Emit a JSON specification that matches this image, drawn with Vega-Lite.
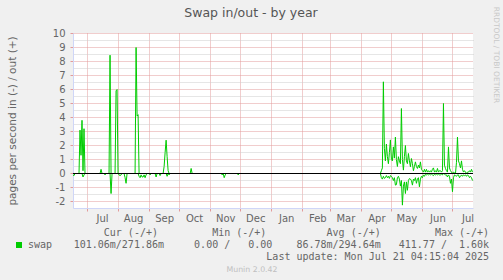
{
"$schema":"https://vega.github.io/schema/vega-lite/v6.json",
"width":400,"height":175,
"autosize":{"type":"none"},
"padding":{"left":73,"top":33,"right":30,"bottom":72},
"background":"#F0F0F0",
"config":{"view":{"fill":"#FFFFFF","stroke":null},"font":"DejaVu Sans"},
"title":{"text":"Swap in/out - by year","font":"DejaVu Sans","fontSize":12.5,"fontWeight":"normal","color":"#555555","anchor":"middle","frame":"group","dx":-22,"dy":23.5,"offset":0,"baseline":"alphabetic"},
"data":{"values":[
{"d":"2024-06-17","v":0,"s":"out"},{"d":"2024-06-23","v":0,"s":"out"},{"d":"2024-06-24","v":3.1,"s":"out"},{"d":"2024-06-25","v":1.3,"s":"out"},{"d":"2024-06-26","v":3.8,"s":"out"},{"d":"2024-06-27","v":0.2,"s":"out"},{"d":"2024-06-28","v":3.2,"s":"out"},{"d":"2024-06-29","v":0,"s":"out"},{"d":"2024-07-05","v":null,"s":"out"},{"d":"2024-07-14","v":0,"s":"out"},{"d":"2024-07-15","v":0.3,"s":"out"},{"d":"2024-07-16","v":0,"s":"out"},{"d":"2024-07-20","v":null,"s":"out"},{"d":"2024-07-23","v":0,"s":"out"},{"d":"2024-07-24","v":8.45,"s":"out"},{"d":"2024-07-25","v":0,"s":"out"},{"d":"2024-07-27","v":null,"s":"out"},{"d":"2024-07-29","v":0,"s":"out"},{"d":"2024-07-30","v":5.9,"s":"out"},{"d":"2024-07-31","v":6.0,"s":"out"},{"d":"2024-08-01","v":0,"s":"out"},{"d":"2024-08-10","v":null,"s":"out"},{"d":"2024-08-18","v":0,"s":"out"},{"d":"2024-08-19","v":9.0,"s":"out"},{"d":"2024-08-20","v":4.1,"s":"out"},{"d":"2024-08-21","v":4.2,"s":"out"},{"d":"2024-08-22","v":0,"s":"out"},{"d":"2024-09-01","v":null,"s":"out"},{"d":"2024-09-15","v":0,"s":"out"},{"d":"2024-09-16","v":0.5,"s":"out"},{"d":"2024-09-17","v":1.5,"s":"out"},{"d":"2024-09-18","v":2.38,"s":"out"},{"d":"2024-09-19","v":1.2,"s":"out"},{"d":"2024-09-20","v":0.2,"s":"out"},{"d":"2024-09-21","v":0,"s":"out"},{"d":"2024-10-01","v":null,"s":"out"},{"d":"2024-10-12","v":0,"s":"out"},{"d":"2024-10-13","v":0.36,"s":"out"},{"d":"2024-10-14","v":0,"s":"out"},{"d":"2025-01-01","v":null,"s":"out"},
{"d":"2025-04-19","v":0,"s":"out"},{"d":"2025-04-20","v":0,"s":"out"},{"d":"2025-04-21","v":0.2,"s":"out"},{"d":"2025-04-22","v":0.4,"s":"out"},{"d":"2025-04-23","v":6.55,"s":"out"},{"d":"2025-04-24","v":1.8,"s":"out"},{"d":"2025-04-25","v":0.9,"s":"out"},{"d":"2025-04-26","v":2.1,"s":"out"},{"d":"2025-04-27","v":1.2,"s":"out"},{"d":"2025-04-28","v":0.7,"s":"out"},{"d":"2025-04-29","v":1.5,"s":"out"},{"d":"2025-04-30","v":2.4,"s":"out"},
{"d":"2025-05-01","v":1.0,"s":"out"},{"d":"2025-05-02","v":0.9,"s":"out"},{"d":"2025-05-03","v":1.9,"s":"out"},{"d":"2025-05-04","v":1.1,"s":"out"},{"d":"2025-05-05","v":2.6,"s":"out"},{"d":"2025-05-06","v":1.0,"s":"out"},{"d":"2025-05-07","v":0.5,"s":"out"},{"d":"2025-05-08","v":1.2,"s":"out"},{"d":"2025-05-09","v":0.9,"s":"out"},{"d":"2025-05-10","v":0.7,"s":"out"},{"d":"2025-05-11","v":4.64,"s":"out"},{"d":"2025-05-12","v":1.0,"s":"out"},{"d":"2025-05-13","v":0.24,"s":"out"},{"d":"2025-05-14","v":1.2,"s":"out"},{"d":"2025-05-15","v":2.0,"s":"out"},{"d":"2025-05-16","v":0.9,"s":"out"},{"d":"2025-05-17","v":0.7,"s":"out"},{"d":"2025-05-18","v":1.43,"s":"out"},{"d":"2025-05-19","v":0.9,"s":"out"},{"d":"2025-05-20","v":0.48,"s":"out"},{"d":"2025-05-21","v":1.07,"s":"out"},{"d":"2025-05-22","v":0.7,"s":"out"},{"d":"2025-05-23","v":0.2,"s":"out"},{"d":"2025-05-24","v":0.5,"s":"out"},{"d":"2025-05-25","v":0.83,"s":"out"},{"d":"2025-05-26","v":0.5,"s":"out"},{"d":"2025-05-27","v":0.36,"s":"out"},{"d":"2025-05-28","v":0.6,"s":"out"},{"d":"2025-05-29","v":0.4,"s":"out"},{"d":"2025-05-30","v":0.83,"s":"out"},{"d":"2025-05-31","v":0.3,"s":"out"},
{"d":"2025-06-01","v":0.2,"s":"out"},{"d":"2025-06-02","v":0.1,"s":"out"},{"d":"2025-06-03","v":0.3,"s":"out"},{"d":"2025-06-04","v":0.1,"s":"out"},{"d":"2025-06-05","v":0.3,"s":"out"},{"d":"2025-06-06","v":0.1,"s":"out"},{"d":"2025-06-07","v":0.2,"s":"out"},{"d":"2025-06-08","v":0.1,"s":"out"},{"d":"2025-06-09","v":0.2,"s":"out"},{"d":"2025-06-10","v":0.1,"s":"out"},{"d":"2025-06-11","v":0.3,"s":"out"},{"d":"2025-06-12","v":0.4,"s":"out"},{"d":"2025-06-13","v":0.1,"s":"out"},{"d":"2025-06-14","v":0.2,"s":"out"},{"d":"2025-06-15","v":0.1,"s":"out"},{"d":"2025-06-16","v":0.36,"s":"out"},{"d":"2025-06-17","v":0.1,"s":"out"},{"d":"2025-06-18","v":0.2,"s":"out"},{"d":"2025-06-19","v":0.2,"s":"out"},{"d":"2025-06-20","v":0.1,"s":"out"},{"d":"2025-06-21","v":0.2,"s":"out"},{"d":"2025-06-22","v":5.0,"s":"out"},{"d":"2025-06-23","v":0.6,"s":"out"},{"d":"2025-06-24","v":0.36,"s":"out"},{"d":"2025-06-25","v":0.2,"s":"out"},{"d":"2025-06-26","v":0.1,"s":"out"},{"d":"2025-06-27","v":1.9,"s":"out"},{"d":"2025-06-28","v":0.4,"s":"out"},{"d":"2025-06-29","v":0.2,"s":"out"},{"d":"2025-06-30","v":0.1,"s":"out"},
{"d":"2025-07-01","v":0,"s":"out"},{"d":"2025-07-02","v":0.1,"s":"out"},{"d":"2025-07-03","v":0.05,"s":"out"},{"d":"2025-07-04","v":0,"s":"out"},{"d":"2025-07-05","v":0.8,"s":"out"},{"d":"2025-07-06","v":2.6,"s":"out"},{"d":"2025-07-07","v":0.9,"s":"out"},{"d":"2025-07-08","v":0.7,"s":"out"},{"d":"2025-07-09","v":0.4,"s":"out"},{"d":"2025-07-10","v":0.9,"s":"out"},{"d":"2025-07-11","v":0.3,"s":"out"},{"d":"2025-07-12","v":0.1,"s":"out"},{"d":"2025-07-13","v":0.2,"s":"out"},{"d":"2025-07-14","v":0.1,"s":"out"},{"d":"2025-07-15","v":0,"s":"out"},{"d":"2025-07-16","v":0.1,"s":"out"},{"d":"2025-07-17","v":0.1,"s":"out"},{"d":"2025-07-18","v":0.2,"s":"out"},{"d":"2025-07-19","v":0.1,"s":"out"},{"d":"2025-07-20","v":0.3,"s":"out"},{"d":"2025-07-21","v":0.1,"s":"out"},
{"d":"2024-06-17","v":-0.1,"s":"in"},{"d":"2024-06-18","v":-0.15,"s":"in"},{"d":"2024-06-19","v":0,"s":"in"},{"d":"2024-06-22","v":null,"s":"in"},{"d":"2024-06-26","v":0,"s":"in"},{"d":"2024-06-27","v":-0.25,"s":"in"},{"d":"2024-06-28","v":-0.1,"s":"in"},{"d":"2024-06-29","v":0,"s":"in"},{"d":"2024-07-08","v":null,"s":"in"},{"d":"2024-07-18","v":0,"s":"in"},{"d":"2024-07-19","v":-0.1,"s":"in"},{"d":"2024-07-20","v":0,"s":"in"},{"d":"2024-07-22","v":null,"s":"in"},{"d":"2024-07-24","v":0,"s":"in"},{"d":"2024-07-25","v":-1.43,"s":"in"},{"d":"2024-07-26","v":0,"s":"in"},{"d":"2024-07-29","v":null,"s":"in"},{"d":"2024-08-01","v":0,"s":"in"},{"d":"2024-08-02","v":-0.1,"s":"in"},{"d":"2024-08-03","v":-0.15,"s":"in"},{"d":"2024-08-04","v":-0.1,"s":"in"},{"d":"2024-08-05","v":0,"s":"in"},{"d":"2024-08-07","v":0,"s":"in"},{"d":"2024-08-08","v":-0.3,"s":"in"},{"d":"2024-08-09","v":-0.7,"s":"in"},{"d":"2024-08-10","v":0,"s":"in"},{"d":"2024-08-15","v":null,"s":"in"},{"d":"2024-08-21","v":0,"s":"in"},{"d":"2024-08-22","v":-0.2,"s":"in"},{"d":"2024-08-23","v":-0.3,"s":"in"},{"d":"2024-08-24","v":-0.1,"s":"in"},{"d":"2024-08-25","v":-0.25,"s":"in"},{"d":"2024-08-26","v":-0.25,"s":"in"},{"d":"2024-08-27","v":-0.1,"s":"in"},{"d":"2024-08-28","v":-0.3,"s":"in"},{"d":"2024-08-29","v":-0.1,"s":"in"},{"d":"2024-08-30","v":0,"s":"in"},{"d":"2024-09-01","v":0,"s":"in"},{"d":"2024-09-02","v":-0.1,"s":"in"},{"d":"2024-09-03","v":0,"s":"in"},{"d":"2024-09-05","v":null,"s":"in"},{"d":"2024-09-07","v":0,"s":"in"},{"d":"2024-09-08","v":-0.25,"s":"in"},{"d":"2024-09-09","v":0,"s":"in"},{"d":"2024-09-11","v":0,"s":"in"},{"d":"2024-09-12","v":-0.15,"s":"in"},{"d":"2024-09-13","v":0,"s":"in"},{"d":"2024-09-15","v":null,"s":"in"},{"d":"2024-09-18","v":0,"s":"in"},{"d":"2024-09-19","v":-0.2,"s":"in"},{"d":"2024-09-20","v":0,"s":"in"},{"d":"2024-09-21","v":-0.1,"s":"in"},{"d":"2024-09-22","v":0,"s":"in"},{"d":"2024-10-15","v":null,"s":"in"},{"d":"2024-11-12","v":0,"s":"in"},{"d":"2024-11-13","v":-0.1,"s":"in"},{"d":"2024-11-14","v":0,"s":"in"},{"d":"2024-11-15","v":-0.3,"s":"in"},{"d":"2024-11-16","v":-0.1,"s":"in"},{"d":"2024-11-17","v":0,"s":"in"},{"d":"2024-11-22","v":null,"s":"in"},{"d":"2024-11-28","v":0,"s":"in"},{"d":"2024-11-29","v":-0.1,"s":"in"},{"d":"2024-11-30","v":0,"s":"in"},{"d":"2025-01-01","v":null,"s":"in"},
{"d":"2025-04-19","v":0,"s":"in"},{"d":"2025-04-20","v":0,"s":"in"},{"d":"2025-04-21","v":-0.3,"s":"in"},{"d":"2025-04-22","v":-0.4,"s":"in"},{"d":"2025-04-23","v":-0.2,"s":"in"},{"d":"2025-04-24","v":-0.35,"s":"in"},{"d":"2025-04-25","v":-0.3,"s":"in"},{"d":"2025-04-26","v":-0.15,"s":"in"},{"d":"2025-04-27","v":-0.3,"s":"in"},{"d":"2025-04-28","v":-0.2,"s":"in"},{"d":"2025-04-29","v":-0.35,"s":"in"},{"d":"2025-04-30","v":-0.15,"s":"in"},
{"d":"2025-05-01","v":-0.2,"s":"in"},{"d":"2025-05-02","v":-0.3,"s":"in"},{"d":"2025-05-03","v":-0.5,"s":"in"},{"d":"2025-05-04","v":-0.3,"s":"in"},{"d":"2025-05-05","v":-0.83,"s":"in"},{"d":"2025-05-06","v":-0.8,"s":"in"},{"d":"2025-05-07","v":-0.3,"s":"in"},{"d":"2025-05-08","v":-0.2,"s":"in"},{"d":"2025-05-09","v":-0.4,"s":"in"},{"d":"2025-05-10","v":-0.9,"s":"in"},{"d":"2025-05-11","v":-0.5,"s":"in"},{"d":"2025-05-12","v":-2.26,"s":"in"},{"d":"2025-05-13","v":-0.9,"s":"in"},{"d":"2025-05-14","v":-0.6,"s":"in"},{"d":"2025-05-15","v":-1.43,"s":"in"},{"d":"2025-05-16","v":-0.6,"s":"in"},{"d":"2025-05-17","v":-1.2,"s":"in"},{"d":"2025-05-18","v":-0.5,"s":"in"},{"d":"2025-05-19","v":-0.36,"s":"in"},{"d":"2025-05-20","v":-0.4,"s":"in"},{"d":"2025-05-21","v":-0.5,"s":"in"},{"d":"2025-05-22","v":-0.83,"s":"in"},{"d":"2025-05-23","v":-0.4,"s":"in"},{"d":"2025-05-24","v":-0.5,"s":"in"},{"d":"2025-05-25","v":-0.3,"s":"in"},{"d":"2025-05-26","v":-0.7,"s":"in"},{"d":"2025-05-27","v":-0.4,"s":"in"},{"d":"2025-05-28","v":-0.3,"s":"in"},{"d":"2025-05-29","v":-0.95,"s":"in"},{"d":"2025-05-30","v":-0.4,"s":"in"},{"d":"2025-05-31","v":-0.2,"s":"in"},
{"d":"2025-06-01","v":-0.3,"s":"in"},{"d":"2025-06-02","v":-0.1,"s":"in"},{"d":"2025-06-03","v":-0.2,"s":"in"},{"d":"2025-06-04","v":-0.05,"s":"in"},{"d":"2025-06-05","v":-0.1,"s":"in"},{"d":"2025-06-06","v":-0.05,"s":"in"},{"d":"2025-06-07","v":-0.1,"s":"in"},{"d":"2025-06-08","v":-0.05,"s":"in"},{"d":"2025-06-09","v":-0.1,"s":"in"},{"d":"2025-06-10","v":-0.05,"s":"in"},{"d":"2025-06-11","v":-0.1,"s":"in"},{"d":"2025-06-12","v":-0.15,"s":"in"},{"d":"2025-06-13","v":-0.05,"s":"in"},{"d":"2025-06-14","v":-0.1,"s":"in"},{"d":"2025-06-15","v":-0.05,"s":"in"},{"d":"2025-06-16","v":-0.1,"s":"in"},{"d":"2025-06-17","v":-0.05,"s":"in"},{"d":"2025-06-18","v":-0.1,"s":"in"},{"d":"2025-06-19","v":-0.1,"s":"in"},{"d":"2025-06-20","v":-0.05,"s":"in"},{"d":"2025-06-21","v":-0.1,"s":"in"},{"d":"2025-06-22","v":0,"s":"in"},{"d":"2025-06-23","v":-0.05,"s":"in"},{"d":"2025-06-24","v":-0.1,"s":"in"},{"d":"2025-06-25","v":-0.1,"s":"in"},{"d":"2025-06-26","v":-0.25,"s":"in"},{"d":"2025-06-27","v":-0.1,"s":"in"},{"d":"2025-06-28","v":-0.2,"s":"in"},{"d":"2025-06-29","v":-0.7,"s":"in"},{"d":"2025-06-30","v":-0.4,"s":"in"},
{"d":"2025-07-01","v":-1.3,"s":"in"},{"d":"2025-07-02","v":-0.3,"s":"in"},{"d":"2025-07-03","v":-0.1,"s":"in"},{"d":"2025-07-04","v":-0.15,"s":"in"},{"d":"2025-07-05","v":-0.2,"s":"in"},{"d":"2025-07-06","v":-0.1,"s":"in"},{"d":"2025-07-07","v":-0.1,"s":"in"},{"d":"2025-07-08","v":-0.3,"s":"in"},{"d":"2025-07-09","v":-0.2,"s":"in"},{"d":"2025-07-10","v":-0.1,"s":"in"},{"d":"2025-07-11","v":-0.2,"s":"in"},{"d":"2025-07-12","v":-0.1,"s":"in"},{"d":"2025-07-13","v":-0.15,"s":"in"},{"d":"2025-07-14","v":-0.1,"s":"in"},{"d":"2025-07-15","v":-0.2,"s":"in"},{"d":"2025-07-16","v":-0.1,"s":"in"},{"d":"2025-07-17","v":-0.15,"s":"in"},{"d":"2025-07-18","v":-0.3,"s":"in"},{"d":"2025-07-19","v":-0.2,"s":"in"},{"d":"2025-07-20","v":-0.3,"s":"in"},{"d":"2025-07-21","v":-0.5,"s":"in"}
]},
"resolve":{"axis":{"x":"independent","y":"independent"}},
"layer":[
{"mark":{"type":"line","strokeWidth":1,"interpolate":"linear","invalid":"break-paths-filter-domains","yOffset":0.5},
 "encoding":{
  "x":{"field":"d","type":"temporal",
   "scale":{"type":"utc","domain":[{"year":2024,"month":6,"date":17,"utc":true},{"year":2025,"month":7,"date":21,"hours":12,"utc":true}]},
   "axis":{"orient":"bottom",
    "values":[{"year":2024,"month":7,"date":1,"utc":true},{"year":2024,"month":8,"date":1,"utc":true},{"year":2024,"month":9,"date":1,"utc":true},{"year":2024,"month":10,"date":1,"utc":true},{"year":2024,"month":11,"date":1,"utc":true},{"year":2024,"month":12,"date":1,"utc":true},{"year":2025,"month":1,"date":1,"utc":true},{"year":2025,"month":2,"date":1,"utc":true},{"year":2025,"month":3,"date":1,"utc":true},{"year":2025,"month":4,"date":1,"utc":true},{"year":2025,"month":5,"date":1,"utc":true},{"year":2025,"month":6,"date":1,"utc":true},{"year":2025,"month":7,"date":1,"utc":true}],
    "labelExpr":"utcFormat(datum.value, '%b')",
    "labelOffset":15,"labelAlign":"center","labelFont":"DejaVu Sans","labelFontSize":10,"labelColor":"#666666","labelPadding":2,
    "labelOverlap":false,"labelFlush":false,"labelBound":false,
    "ticks":true,"tickColor":"#E39A9A","tickSize":3,
    "domain":true,"domainColor":"#CFD6F8","domainWidth":1,
    "grid":true,"gridColor":"#E39A9A","gridDash":[1,1],"gridWidth":1,"gridOpacity":1,
    "title":["Cur (-/+)\u00a0\u00a0\u00a0\u00a0\u00a0\u00a0\u00a0\u00a0\u00a0Min (-/+)\u00a0\u00a0\u00a0\u00a0\u00a0\u00a0\u00a0\u00a0\u00a0\u00a0Avg (-/+)\u00a0\u00a0\u00a0\u00a0\u00a0\u00a0\u00a0\u00a0\u00a0Max (-/+)\u00a0",
             "101.06m/271.86m\u00a0\u00a0\u00a0\u00a0\u00a00.00 /\u00a0\u00a0\u00a00.00\u00a0\u00a0\u00a0\u00a086.78m/294.64m\u00a0\u00a0\u00a0411.77 /\u00a0\u00a01.60k",
             "Last update: Mon Jul 21 04:15:04 2025"],
    "titleFont":"DejaVu Sans Mono","titleFontSize":10,"titleFontWeight":"normal","titleColor":"#666666",
    "titleAlign":"right","titleX":415.6,"titleY":27.5,"titleBaseline":"alphabetic","titleLineHeight":11.75}},
  "y":{"field":"v","type":"quantitative",
   "scale":{"domain":[-2.5,10],"nice":false,"zero":false},
   "axis":{"orient":"left","values":[-2,-1,0,1,2,3,4,5,6,7,8,9,10],
    "labelExpr":"'' + datum.value",
    "labelFont":"DejaVu Sans","labelFontSize":10,"labelColor":"#666666","labelPadding":5,
    "ticks":true,"tickSize":3,"tickColor":"#E39A9A",
    "domain":true,"domainColor":"#CFD6F8",
    "grid":true,"gridColor":"#E39A9A","gridDash":[1,1],"gridWidth":1,"gridOpacity":1,
    "title":"pages per second in (-) / out (+)",
    "titleFont":"DejaVu Sans","titleFontSize":10.5,"titleFontWeight":"normal","titleColor":"#666666",
    "titleX":-61,"titleY":87.5,"titleAngle":270,"titleAlign":"center","titleBaseline":"middle"}},
  "detail":{"field":"s","type":"nominal"},
  "color":{"datum":"swap","type":"nominal","scale":{"range":["#00CC00"]},
   "legend":{"orient":"none","legendX":-59,"legendY":207,"title":null,"padding":0,
    "labelFont":"DejaVu Sans Mono","labelFontSize":10,"labelColor":"#666666","labelOffset":4,
    "symbolType":"square","symbolSize":36,"symbolStrokeWidth":0,"symbolFillColor":"#00CC00",
    "encode":{"symbols":{"update":{"fill":{"value":"#00CC00"},"stroke":{"value":"#00CC00"},"strokeWidth":{"value":0},"shape":{"value":"square"}}}}}}
 }},
{"data":{"values":[{}]},
 "mark":{"type":"rule","color":"#000000","strokeWidth":1,"yOffset":0.5},
 "encoding":{
  "x":{"datum":{"year":2024,"month":6,"date":17,"utc":true},"type":"temporal",
   "scale":{"type":"utc","domain":[{"year":2024,"month":6,"date":17,"utc":true},{"year":2025,"month":7,"date":21,"hours":12,"utc":true}]},
   "axis":{"orient":"top","labels":false,"ticks":false,"domain":false,"grid":false,
    "title":"Munin 2.0.42","titleFont":"DejaVu Sans","titleFontSize":7.8,"titleFontWeight":"normal","titleColor":"#C0C0C0",
    "titleX":178.5,"titleY":236,"titleAlign":"center","titleBaseline":"middle"}},
  "x2":{"datum":{"year":2025,"month":7,"date":21,"hours":12,"utc":true}},
  "y":{"datum":0,"type":"quantitative",
   "scale":{"domain":[-2.5,10],"nice":false,"zero":false},
   "axis":{"orient":"right","values":[-1.5,-0.5,0.5,1.5,2.5,3.5,4.5,5.5,6.5,7.5,8.5,9.5],
    "labels":false,"ticks":false,"domain":false,
    "grid":true,"gridColor":"#CCCCCC","gridDash":[1,1],"gridWidth":1,"gridOpacity":1,
    "title":"RRDTOOL / TOBI OETIKER","titleFont":"DejaVu Sans","titleFontSize":7.5,"titleFontWeight":"normal","titleColor":"#C8C8C8",
    "titleAngle":90,"titleX":22.5,"titleY":21.5,"titleAlign":"center","titleBaseline":"middle"}}
 }}
]
}
